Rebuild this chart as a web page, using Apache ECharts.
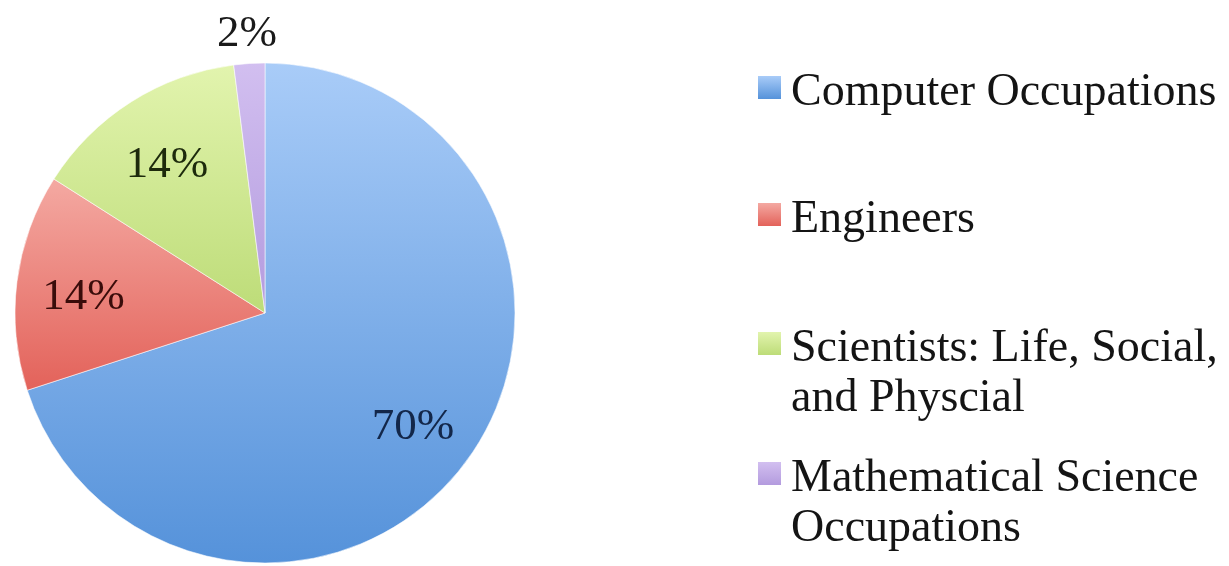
<!DOCTYPE html>
<html>
<head>
<meta charset="utf-8">
<title>STEM occupations share</title>
<script src="https://cdn.jsdelivr.net/npm/echarts@6/dist/echarts.min.js"></script>
<style>
  html, body { margin: 0; padding: 0; background: #ffffff; }
  #chart { width: 1229px; height: 566px; }
</style>
</head>
<body>
<div id="chart"></div>
<script>
// Occupation groups, in drawing order (clockwise from 12 o'clock)
const categories = [
  'Computer Occupations',
  'Engineers',
  'Scientists: Life, Social, and Physcial',
  'Mathematical Science Occupations'
];
// Legend text with its line breaks
const legendLines = [
  'Computer Occupations',
  'Engineers',
  'Scientists: Life, Social,\nand Physcial',
  'Mathematical Science\nOccupations'
];
// Share of each group, percent
const shares = [70, 14, 14, 2];

// Slice fills: light at the top, deeper at the bottom
const fillTop = ['#a9ccf8', '#f4a9a2', '#e2f4ae', '#d2bff0'];
const fillBottom = ['#5592da', '#e3625a', '#bddc78', '#b39bde'];
// Percentage label colours
const labelColors = ['#13274a', '#3a0c0a', '#1d2a0c', '#1a1a1a'];

const FONT = '"Liberation Serif", "DejaVu Serif", serif';
const CENTER = [265, 313];
const R = 250;
const LINE_H = 50;
const MARK = 23;

function grad(i, end) {
  return new echarts.graphic.LinearGradient(0, 0, 0, 1, [
    { offset: 0, color: fillTop[i] },
    { offset: end, color: fillBottom[i] },
    { offset: 1, color: fillBottom[i] }
  ]);
}

// Filled slices, no labels
const sliceData = categories.map((name, i) => ({
  name: name,
  value: shares[i],
  itemStyle: { color: grad(i, 1) }
}));

// Transparent ring carrying the in-slice labels (mid radius 180)
const innerLabelData = categories.map((name, i) => ({
  name: name,
  value: shares[i],
  label: { show: i < 3, color: labelColors[i] }
}));

// Transparent ring carrying the label outside the thin slice
const outerLabelData = categories.map((name, i) => ({
  name: name,
  value: shares[i],
  label: { show: i === 3, color: labelColors[i] }
}));

const labelRing = {
  type: 'pie',
  center: CENTER,
  startAngle: 90,
  clockwise: true,
  silent: true,
  legendHoverLink: false,
  emphasis: { disabled: true },
  itemStyle: { color: 'rgba(0,0,0,0)', borderWidth: 0 },
  labelLine: { show: false },
  label: {
    position: 'inside',
    formatter: '{c}%',
    fontFamily: FONT,
    fontSize: 45,
    offset: [0, 7]
  }
};

// One legend block per entry. The marker path carries an empty tail so the
// square sits level with the first text line, a little above its centre.
const markTops = [76, 203, 332, 462];
const legends = categories.map((name, i) => {
  const lines = legendLines[i].split('\n').length;
  const boxH = MARK + 10 + (lines - 1) * LINE_H;
  return {
    data: [{ name: name, itemStyle: { color: grad(i, MARK / boxH), borderWidth: 0 } }],
    left: 758,
    top: markTops[i] - (LINE_H * lines / 2 - boxH / 2),
    padding: 0,
    orient: 'vertical',
    selectedMode: false,
    icon: 'path://M0,0L' + MARK + ',0L' + MARK + ',' + MARK + 'L0,' + MARK + 'Z M0,' + boxH + 'L0.001,' + boxH + 'Z',
    itemWidth: MARK,
    itemHeight: boxH,
    itemStyle: { borderWidth: 0 },
    formatter: () => legendLines[i],
    textStyle: {
      fontFamily: FONT,
      fontSize: 46,
      color: '#141414',
      lineHeight: LINE_H,
      padding: [0, 0, 0, 5]
    }
  };
});

const chart = echarts.init(document.getElementById('chart'), null, { renderer: 'canvas' });
chart.setOption({
  backgroundColor: '#ffffff',
  animation: false,
  legend: legends,
  series: [
    {
      type: 'pie',
      name: 'slices',
      center: CENTER,
      radius: [0, R],
      startAngle: 90,
      clockwise: true,
      emphasis: { disabled: true },
      itemStyle: { borderColor: 'rgba(255,255,255,0.55)', borderWidth: 1 },
      label: { show: false },
      labelLine: { show: false },
      data: sliceData
    },
    Object.assign({}, labelRing, { radius: [110, R], data: innerLabelData }),
    Object.assign({}, labelRing, { radius: [266, 300], data: outerLabelData })
  ]
});
</script>
</body>
</html>
